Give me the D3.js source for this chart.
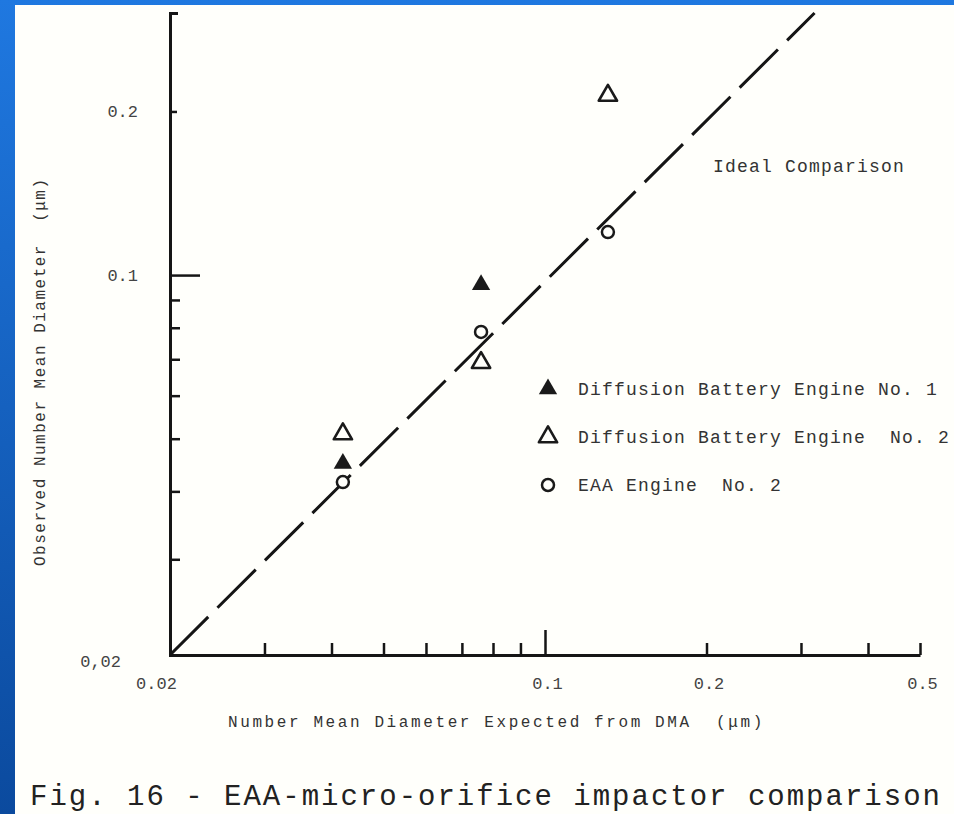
<!DOCTYPE html>
<html>
<head>
<meta charset="utf-8">
<script src="https://cdn.jsdelivr.net/npm/d3@7"></script>
<style>
  html, body { margin: 0; padding: 0; }
  body { width: 954px; height: 814px; overflow: hidden;
         background: linear-gradient(#1f78e0, #0b4a9e); }
  svg { display: block; }
  text { font-family: "Liberation Mono", "DejaVu Sans Mono", monospace; white-space: pre; }
</style>
</head>
<body>
<div id="root"></div>
<script>
// values (micrometres)
const xTicks = [0.02, 0.03, 0.04, 0.05, 0.06, 0.07, 0.08, 0.09, 0.1, 0.2, 0.3, 0.4, 0.5];
const xLabels = [0.02, 0.1, 0.2, 0.5];
const yTicks = [0.03, 0.04, 0.05, 0.06, 0.07, 0.08, 0.09, 0.1, 0.2];
const yLabels = ["0,02", "0.1", "0.2"];
const yLabelValues = [0.02, 0.1, 0.2];

const dbEngine1X = [0.042, 0.076];
const dbEngine1Y = [0.045, 0.096];
const dbEngine2X = [0.042, 0.076, 0.131];
const dbEngine2Y = [0.051, 0.069, 0.214];
const eaaEngine2X = [0.042, 0.076, 0.131];
const eaaEngine2Y = [0.0416, 0.0786, 0.120];

const idealX = [0.02, 0.318];
const idealY = [0.02, 0.3035];

const legendNames = ["Diffusion Battery Engine No. 1", "Diffusion Battery Engine  No. 2", "EAA Engine  No. 2"];

const width = 954, height = 814;
const ink = "#151515";

const svg = d3.select("#root").append("svg")
    .attr("width", width)
    .attr("height", height);

// paper
svg.append("rect")
    .attr("x", 15).attr("y", 5)
    .attr("width", width - 15).attr("height", height - 5)
    .attr("fill", "#fffffb");

const x = d3.scaleLog().domain([0.02, 0.5]).range([170, 920]);
const y = d3.scaleLog().domain([0.02, 0.3035]).range([655, 13]);

// x axis, ticks pointing up into the plot
const xAxis = svg.append("g")
    .attr("transform", `translate(0,${y(0.02)})`)
    .call(d3.axisBottom(x)
        .tickValues(xTicks)
        .tickSizeInner(-12)
        .tickSizeOuter(0)
        .tickPadding(22)
        .tickFormat(d => xLabels.includes(d) ? String(d) : ""));

xAxis.select(".domain").attr("stroke", ink).attr("stroke-width", 3);
xAxis.selectAll(".tick line")
    .attr("stroke", ink).attr("stroke-width", 2.5)
    .attr("y2", d => d === 0.1 ? -25 : (d === 0.02 ? 0 : -12));
xAxis.selectAll(".tick text")
    .attr("fill", "#444")
    .style("font-size", "17px")
    .attr("dx", d => d === 0.02 ? -14 : 2);

// y axis, ticks pointing right
const yAxis = svg.append("g")
    .attr("transform", `translate(${x(0.02)},0)`)
    .call(d3.axisLeft(y)
        .tickValues(yTicks)
        .tickSizeInner(-10)
        .tickSizeOuter(-8)
        .tickFormat(""));

yAxis.select(".domain").attr("stroke", ink).attr("stroke-width", 3).attr("fill", "none");
yAxis.selectAll(".tick line")
    .attr("stroke", ink).attr("stroke-width", 2.5)
    .attr("x2", d => d === 0.1 ? 30 : (d === 0.2 ? 7 : 10));

svg.append("g").selectAll("text")
    .data(yLabels)
    .enter().append("text")
    .attr("x", (d, i) => i === 0 ? 121 : 138)
    .attr("y", (d, i) => y(yLabelValues[i]) + (i === 0 ? 12 : 6))
    .attr("text-anchor", "end")
    .attr("fill", "#444")
    .style("font-size", "17px")
    .text(d => d);

// ideal comparison line
const line = d3.line()
    .x(d => x(d[0]))
    .y(d => y(d[1]));

svg.append("path")
    .datum(idealX.map((v, i) => [v, idealY[i]]))
    .attr("d", line)
    .attr("fill", "none")
    .attr("stroke", ink)
    .attr("stroke-width", 3)
    .attr("stroke-dasharray", "54 13");

svg.append("text")
    .attr("x", 713).attr("y", 172)
    .attr("fill", "#333")
    .style("font-size", "18px")
    .style("letter-spacing", "1.2px")
    .text("Ideal Comparison");

// markers
const tri = d3.symbol().type(d3.symbolTriangle).size(145);

svg.append("g").selectAll("path")
    .data(dbEngine1X.map((v, i) => [v, dbEngine1Y[i]]))
    .enter().append("path")
    .attr("d", tri)
    .attr("transform", d => `translate(${x(d[0])},${y(d[1])})`)
    .attr("fill", "#1a1a1a");

svg.append("g").selectAll("path")
    .data(dbEngine2X.map((v, i) => [v, dbEngine2Y[i]]))
    .enter().append("path")
    .attr("d", tri)
    .attr("transform", d => `translate(${x(d[0])},${y(d[1])})`)
    .attr("fill", "none")
    .attr("stroke", "#1a1a1a")
    .attr("stroke-width", 2.6)
    .attr("stroke-linejoin", "round");

svg.append("g").selectAll("circle")
    .data(eaaEngine2X.map((v, i) => [v, eaaEngine2Y[i]]))
    .enter().append("circle")
    .attr("cx", d => x(d[0]))
    .attr("cy", d => y(d[1]))
    .attr("r", 6)
    .attr("fill", "#fffffb")
    .attr("stroke", "#1a1a1a")
    .attr("stroke-width", 2.5);

// legend
const legend = svg.append("g").selectAll("g")
    .data(legendNames)
    .enter().append("g")
    .attr("transform", (d, i) => `translate(548,${389 + i * 48})`);

legend.each(function(d, i) {
    const g = d3.select(this);
    if (i < 2) {
        g.append("path")
            .attr("d", tri)
            .attr("fill", i === 0 ? "#1a1a1a" : "none")
            .attr("stroke", "#1a1a1a")
            .attr("stroke-width", i === 0 ? 0 : 2.6)
            .attr("stroke-linejoin", "round");
    } else {
        g.append("circle")
            .attr("r", 6)
            .attr("fill", "none")
            .attr("stroke", "#1a1a1a")
            .attr("stroke-width", 2.5);
    }
    g.append("text")
        .attr("x", 30).attr("y", 6)
        .attr("fill", "#333")
        .style("font-size", "18px")
        .style("letter-spacing", "1.2px")
        .text(d);
});

// axis titles
svg.append("text")
    .attr("x", 228).attr("y", 727)
    .attr("fill", "#333")
    .style("font-size", "16px")
    .style("letter-spacing", "2.6px")
    .text("Number Mean Diameter Expected from DMA  (μm)");

svg.append("text")
    .attr("transform", "translate(45,566) rotate(-90)")
    .attr("fill", "#333")
    .style("font-size", "16px")
    .style("letter-spacing", "1.5px")
    .text("Observed Number Mean Diameter  (μm)");

// caption
svg.append("text")
    .attr("x", 30).attr("y", 805)
    .attr("fill", "#222")
    .style("font-size", "29px")
    .style("letter-spacing", "2px")
    .text("Fig. 16 - EAA-micro-orifice impactor comparison");
</script>
</body>
</html>
